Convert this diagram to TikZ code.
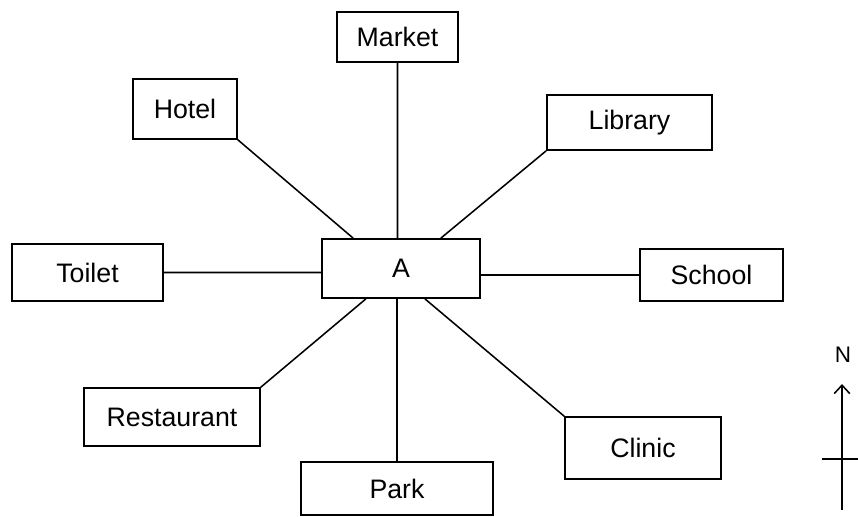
\documentclass[tikz,border=0pt]{standalone}
\usepackage{fontspec}
\setmainfont{Liberation Sans}
\usepackage{tikz}
\usetikzlibrary{calc,arrows.meta}

\tikzset{
	place/.style={draw, line width=1.1pt, inner sep=0pt, font=\fontsize{19}{22}\selectfont},
	road/.style={line width=1.1pt}
}

\begin{document}
\begin{tikzpicture}[x=0.025cm, y=-0.025cm]
	\useasboundingbox (0,0) rectangle (858,517);

	\node[place, minimum width=3.95cm, minimum height=1.48cm] (a) at (401,268.5) {A};
	\node[place, minimum width=3.03cm, minimum height=1.25cm] (market) at (397.5,37) {Market};
	\node[place, minimum width=2.6cm, minimum height=1.5cm] (hotel) at (185,109) {Hotel};
	\node[place, minimum width=4.13cm, minimum height=1.38cm] (library) at (629.5,122.5) {Library};
	\node[place, minimum width=3.78cm, minimum height=1.43cm] (toilet) at (87.5,272.5) {Toilet};
	\node[place, minimum width=3.58cm, minimum height=1.3cm] (school) at (711.5,275) {School};
	\node[place, minimum width=4.4cm, minimum height=1.45cm] (restaurant) at (172,417) {Restaurant};
	\node[place, minimum width=3.9cm, minimum height=1.55cm] (clinic) at (643,448) {Clinic};
	\node[place, minimum width=4.8cm, minimum height=1.33cm] (park) at (397,488.5) {Park};

	% roads out of A
	\draw[road] (market.south) -- (market.south |- a.north)
	            (hotel.south east) -- ($(a.north west)!0.2!(a.north east)$)
	            (library.south west) -- ($(a.north west)!0.75!(a.north east)$)
	            (toilet.east) -- (toilet.east -| a.west)
	            (a.east |- school.west) -- (school.west)
	            (restaurant.north east) -- ($(a.south west)!0.28!(a.south east)$)
	            (clinic.north west) -- ($(a.south west)!0.65!(a.south east)$)
	            (park.north) -- (park.north |- a.south);

	% north sign
	\node[font=\fontsize{16}{18}\selectfont] (north) at (843,355) {N};
	\coordinate (ntip) at (842,384);
	\coordinate (ntail) at (842,510);
	\coordinate (cw) at (822,459);
	\coordinate (ce) at (858,459);
	\draw[road, -{Straight Barb[length=6pt,width=11pt]}] (ntail) -- (ntip);
	\draw[road] (cw) -- (ce);
\end{tikzpicture}
\end{document}
